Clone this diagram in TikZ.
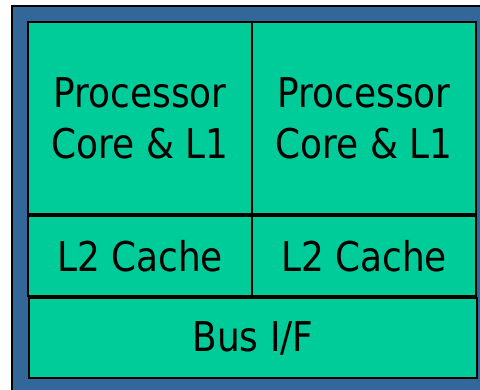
\documentclass[tikz,border=0pt]{standalone}
\usepackage{fontspec}
\setmainfont{DejaVu Sans}[FakeStretch=0.875]
\usepackage{xcolor}
\usepackage{tikz}
\usetikzlibrary{positioning}
\definecolor{dieblue}{RGB}{51,102,153}
\definecolor{diegreen}{RGB}{0,204,153}
\tikzset{
    cell/.style={draw=black, line width=2pt, fill=diegreen, inner sep=0pt,
        align=center, font=\fontsize{41}{51}\selectfont},
    core/.style={cell, minimum width=224pt, minimum height=192pt},
    cache/.style={cell, minimum width=224pt, minimum height=80pt},
    bus/.style={cell, minimum width=448pt, minimum height=80pt}
}

\begin{document}
\begin{tikzpicture}[x=1pt,y=-1pt]
    \useasboundingbox (0,0) rectangle (480,389);
    \clip (0,0) rectangle (480,389);
    % Die outline
    \draw[fill=dieblue, line width=2pt] (12,6) rectangle (500,410);
    % Two cores, each with its own L2
    \foreach \i/\x in {1/140,2/364} {
        \node[core] (core\i) at (\x,118) {Processor\\Core \& L1};
        \node[cache, below=0pt of core\i] (cache\i) {L2 Cache};
    }
    \node[bus, below=0pt of cache1.south east] (busif) {Bus I/F};
\end{tikzpicture}
\end{document}
